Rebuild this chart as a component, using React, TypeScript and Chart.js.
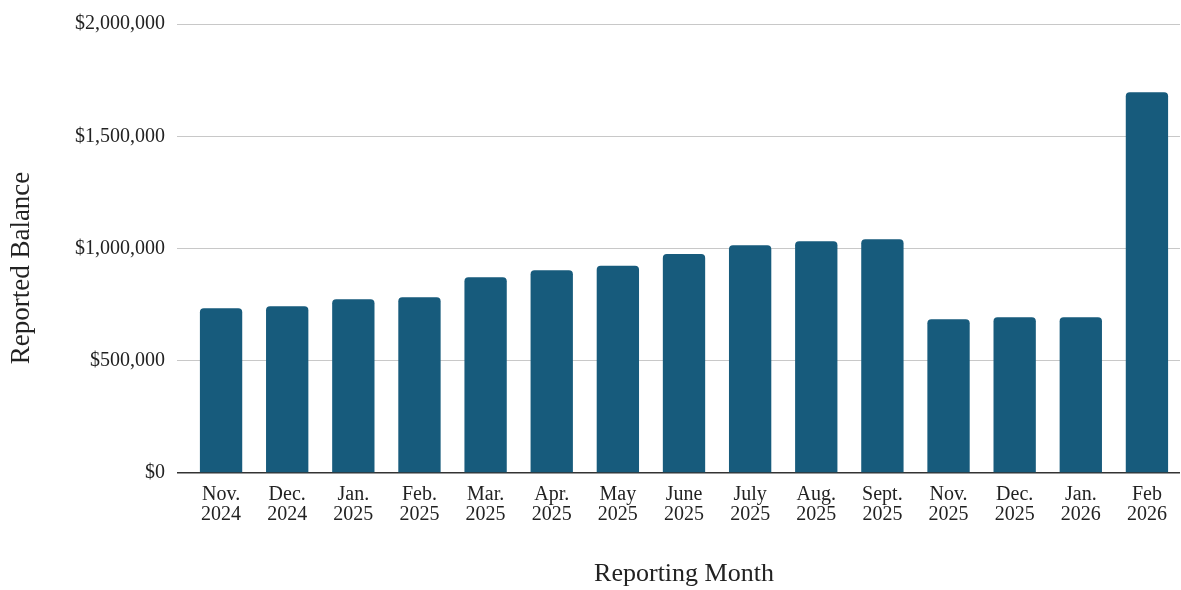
import React, { useEffect, useRef } from "react";
import { Chart, registerables } from "chart.js";

Chart.register(...registerables);

const months = ["Nov.", "Dec.", "Jan.", "Feb.", "Mar.", "Apr.", "May", "June", "July", "Aug.", "Sept.", "Nov.", "Dec.", "Jan.", "Feb"];
const years = ["2024", "2024", "2025", "2025", "2025", "2025", "2025", "2025", "2025", "2025", "2025", "2025", "2025", "2026", "2026"];
const balances = [734000, 743000, 774000, 783000, 872000, 903000, 923000, 975000, 1015000, 1032000, 1041000, 685000, 694000, 694000, 1696000];
const yTicks = [0, 500000, 1000000, 1500000, 2000000];
const yTitle = "Reported Balance";
const xTitle = "Reporting Month";

const FONT = "'Liberation Serif', 'Times New Roman', serif";

const yTitlePlugin = {
  id: "yTitlePlugin",
  afterDraw(chart: any) {
    const ctx = chart.ctx;
    ctx.save();
    ctx.translate(22, 268);
    ctx.rotate(-Math.PI / 2);
    ctx.font = `27px ${FONT}`;
    ctx.fillStyle = "#222";
    ctx.textAlign = "center";
    ctx.textBaseline = "middle";
    ctx.fillText(yTitle, 0, 0);
    ctx.restore();
  },
};

export default function App() {
  const ref = useRef<HTMLCanvasElement | null>(null);

  useEffect(() => {
    if (!ref.current) return;
    const labels = months.map((m, i) => [m, years[i]]);
    const chart = new Chart(ref.current, {
      type: "bar",
      data: {
        labels,
        datasets: [
          {
            data: balances,
            backgroundColor: "#175b7c",
            borderRadius: 4,
            borderSkipped: "bottom",
            barPercentage: 0.64,
            categoryPercentage: 1,
          },
        ],
      },
      plugins: [yTitlePlugin],
      options: {
        animation: false,
        responsive: true,
        maintainAspectRatio: false,
        layout: { padding: { top: 23, right: 1, left: 0, bottom: 0 } },
        plugins: { legend: { display: false }, tooltip: { enabled: false } },
        scales: {
          x: {
            grid: { display: false, drawTicks: false },
            border: { display: false },
            ticks: {
              color: "#222",
              padding: 12,
              maxRotation: 0,
              autoSkip: false,
              font: { family: FONT, size: 20, lineHeight: 1.0 },
            },
            title: {
              display: true,
              text: xTitle,
              color: "#222",
              padding: { top: 0, bottom: 0 },
              font: { family: FONT, size: 26 },
            },
            afterFit: (scale: any) => {
              scale.height = 117;
            },
          },
          y: {
            min: 0,
            max: 2000000,
            afterBuildTicks: (scale: any) => {
              scale.ticks = yTicks.map((v) => ({ value: v }));
            },
            grid: {
              color: (ctx: any) => (ctx.tick && ctx.tick.value === 0 ? "#333" : "#c8c8c8"),
              lineWidth: (ctx: any) => (ctx.tick && ctx.tick.value === 0 ? 1.5 : 1),
              tickLength: 11,
            },
            border: { display: false },
            ticks: {
              color: "#222",
              padding: 12,
              font: { family: FONT, size: 20 },
              callback: (v: any) => "$" + Number(v).toLocaleString("en-US"),
            },
            title: { display: false },
            afterFit: (scale: any) => {
              scale.width = 188;
            },
          },
        },
      },
    });
    return () => chart.destroy();
  }, []);

  return (
    <div style={{ position: "absolute", left: 0, top: 0, width: 1181, height: 590, background: "#fff" }}>
      <canvas ref={ref} />
    </div>
  );
}
